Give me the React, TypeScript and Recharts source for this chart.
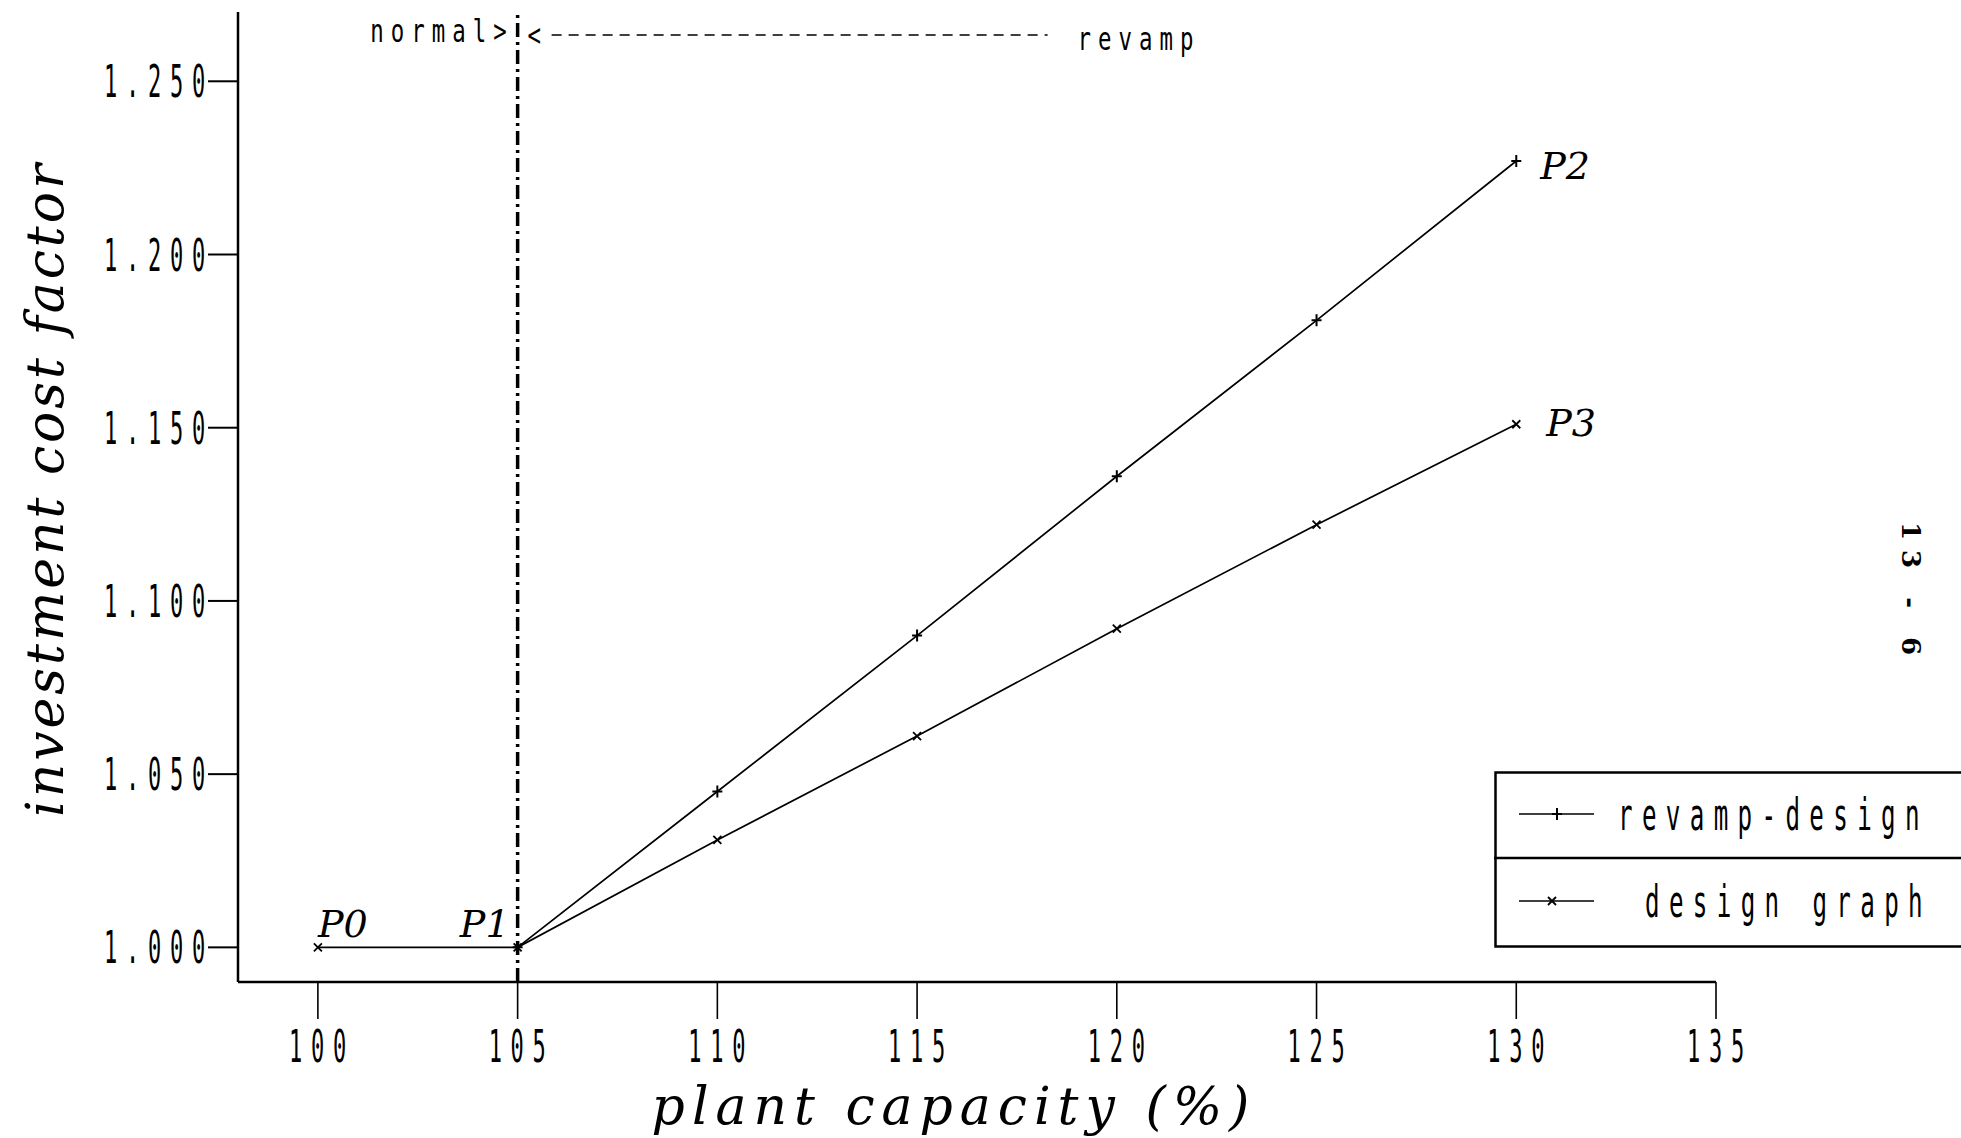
import {
  LineChart,
  Line,
  XAxis,
  YAxis,
  ReferenceLine,
  Label,
  LabelList,
  Legend,
} from 'recharts';

// values
const capacity = [100, 105, 110, 115, 120, 125, 130];
const revampDesign = [null, 1.0, 1.045, 1.09, 1.136, 1.181, 1.227];
const designGraph = [1.0, 1.0, 1.031, 1.061, 1.092, 1.122, 1.151];
const revampPoints = ['', '', '', '', '', '', 'P2'];
const designPoints = ['P0', 'P1', '', '', '', '', 'P3'];
const xTicks = [100, 105, 110, 115, 120, 125, 130, 135];
const yTicks = [1.0, 1.05, 1.1, 1.15, 1.2, 1.25];
const seriesNames = ['revamp-design', 'design graph'];
const boundary = 105;

const data = capacity.map((x, i) => ({
  x,
  revamp: revampDesign[i],
  design: designGraph[i],
  revampPt: revampPoints[i],
  designPt: designPoints[i],
}));

const W = 1961;
const H = 1138;
const INK = '#000';
const MONO = '"DejaVu Sans Mono", monospace';
const SERIF = '"DejaVu Serif", serif';

// narrow plotter-style lettering: tall glyphs squeezed horizontally
function MonoText({ x, y, anchor = 'start', size = 44, squeeze = 0.5, spacing = 17.5, children }: any) {
  return (
    <g transform={`translate(${x},${y}) scale(${squeeze},1)`}>
      <text textAnchor={anchor} fontFamily={MONO} fontSize={size} letterSpacing={spacing} fill={INK}>
        {children}
      </text>
    </g>
  );
}

function YTick({ x, y, payload }: any) {
  return (
    <MonoText x={x + 8} y={y + 16} anchor="end">
      {Number(payload.value).toFixed(3)}
    </MonoText>
  );
}

function XTick({ x, y, payload }: any) {
  return (
    <MonoText x={x + 4} y={y + 31} anchor="middle">
      {payload.value}
    </MonoText>
  );
}

function PlusDot({ cx, cy, index }: any) {
  if (cx == null || cy == null) return <g key={index} />;
  return (
    <path key={index} d={`M${cx - 5},${cy}H${cx + 5}M${cx},${cy - 6}V${cy + 6}`} stroke={INK} strokeWidth={2} />
  );
}

function CrossDot({ cx, cy, index }: any) {
  if (cx == null || cy == null) return <g key={index} />;
  return (
    <path
      key={index}
      d={`M${cx - 4},${cy - 4}L${cx + 4},${cy + 4}M${cx - 4},${cy + 4}L${cx + 4},${cy - 4}`}
      stroke={INK}
      strokeWidth={1.8}
    />
  );
}

const NAME_PLACE: Record<string, [number, number, string]> = {
  P0: [0, -10, 'start'],
  P1: [-8, -10, 'end'],
  P2: [24, 18, 'start'],
  P3: [30, 12, 'start'],
};

function PointName({ x, y, value }: any) {
  if (!value || !NAME_PLACE[value]) return null;
  const [dx, dy, anchor] = NAME_PLACE[value];
  return (
    <text x={x + dx} y={y + dy} textAnchor={anchor} fontFamily={SERIF} fontStyle="italic" fontSize={38} fill={INK}>
      {value}
    </text>
  );
}

function ZoneLabel({ viewBox }: any) {
  const x = viewBox.x;
  return (
    <g>
      <MonoText x={x - 4} y={42} anchor="end" size={32} squeeze={0.7} spacing={10}>
        normal&gt;
      </MonoText>
      <MonoText x={x + 10} y={46} size={32} squeeze={0.7} spacing={10}>
        &lt;
      </MonoText>
      <line x1={x + 34} x2={x + 530} y1={35} y2={35} stroke={INK} strokeWidth={1.6} strokeDasharray="10 7" />
      <MonoText x={x + 560} y={50} size={32} squeeze={0.7} spacing={10}>
        revamp
      </MonoText>
    </g>
  );
}

function YTitle({ viewBox }: any) {
  const cx = viewBox.x + 45;
  const cy = 489;
  return (
    <text
      x={cx}
      y={cy}
      transform={`rotate(-90,${cx},${cy})`}
      textAnchor="middle"
      dominantBaseline="central"
      fontFamily={SERIF}
      fontStyle="italic"
      fontSize={52}
      letterSpacing={3}
      fill={INK}
    >
      investment cost factor
    </text>
  );
}

function XTitle() {
  return (
    <text x={954} y={1124} textAnchor="middle" fontFamily={SERIF} fontStyle="italic" fontSize={52} letterSpacing={7} fill={INK}>
      plant capacity (%)
    </text>
  );
}

function LegendBox({ payload }: any) {
  const entries = [...(payload || [])].sort(
    (a: any, b: any) => seriesNames.indexOf(a.value) - seriesNames.indexOf(b.value)
  );
  return (
    <svg width={470} height={178} style={{ display: 'block' }}>
      <rect x={1.5} y={1.5} width={480} height={174} fill="#fff" stroke={INK} strokeWidth={2.5} />
      <line x1={0} x2={470} y1={87} y2={87} stroke={INK} strokeWidth={2.5} />
      {entries.map((e: any, i: number) => {
        const cy = i === 0 ? 43 : 130;
        const mx = i === 0 ? 63 : 58;
        return (
          <g key={e.value}>
            <line x1={25} x2={100} y1={cy} y2={cy} stroke={INK} strokeWidth={1.6} />
            {i === 0 ? <PlusDot cx={mx} cy={cy} index={0} /> : <CrossDot cx={mx} cy={cy} index={0} />}
            <MonoText x={i === 0 ? 124 : 151} y={cy + 16} size={44} squeeze={0.55} spacing={17}>
              {e.value}
            </MonoText>
          </g>
        );
      })}
    </svg>
  );
}

export default function App() {
  return (
    <div style={{ position: 'absolute', left: 0, top: 0, width: W, height: H, overflow: 'hidden', background: '#fff' }}>
      <LineChart width={W} height={H} data={data} margin={{ top: 12, right: 245, bottom: 0, left: 0 }}>
        <XAxis
          dataKey="x"
          type="number"
          domain={[98, 135]}
          ticks={xTicks}
          interval={0}
          height={156}
          tickSize={37}
          tickMargin={12}
          tick={<XTick />}
          axisLine={{ stroke: INK, strokeWidth: 2.5 }}
          tickLine={{ stroke: INK, strokeWidth: 1.6 }}
        >
          <Label content={<XTitle />} />
        </XAxis>
        <YAxis
          type="number"
          domain={[0.99, 1.27]}
          ticks={yTicks}
          interval={0}
          width={238}
          tickSize={30}
          tickMargin={2}
          tick={<YTick />}
          axisLine={{ stroke: INK, strokeWidth: 2.5 }}
          tickLine={{ stroke: INK, strokeWidth: 2 }}
        >
          <Label content={<YTitle />} />
        </YAxis>
        <ReferenceLine
          x={boundary}
          stroke={INK}
          strokeWidth={3.5}
          strokeDasharray="14 5 3 5"
          label={<ZoneLabel />}
        />
        <Legend
          layout="horizontal"
          verticalAlign="middle"
          align="center"
          content={<LegendBox />}
          wrapperStyle={{ left: 1494, top: 771, width: 470, height: 178 }}
        />
        <Line
          dataKey="revamp"
          name={seriesNames[0]}
          stroke={INK}
          strokeWidth={1.7}
          dot={PlusDot}
          activeDot={false}
          isAnimationActive={false}
          legendType="line"
        >
          <LabelList dataKey="revampPt" content={<PointName />} />
        </Line>
        <Line
          dataKey="design"
          name={seriesNames[1]}
          stroke={INK}
          strokeWidth={1.7}
          dot={CrossDot}
          activeDot={false}
          isAnimationActive={false}
          legendType="line"
        >
          <LabelList dataKey="designPt" content={<PointName />} />
        </Line>
      </LineChart>
      <div
        style={{
          position: 'absolute',
          left: 1898,
          top: 522,
          writingMode: 'vertical-rl',
          fontFamily: SERIF,
          fontWeight: 'bold',
          fontSize: 26,
          letterSpacing: 10,
          lineHeight: 1,
          color: INK,
        }}
      >
        13 - 6
      </div>
    </div>
  );
}
